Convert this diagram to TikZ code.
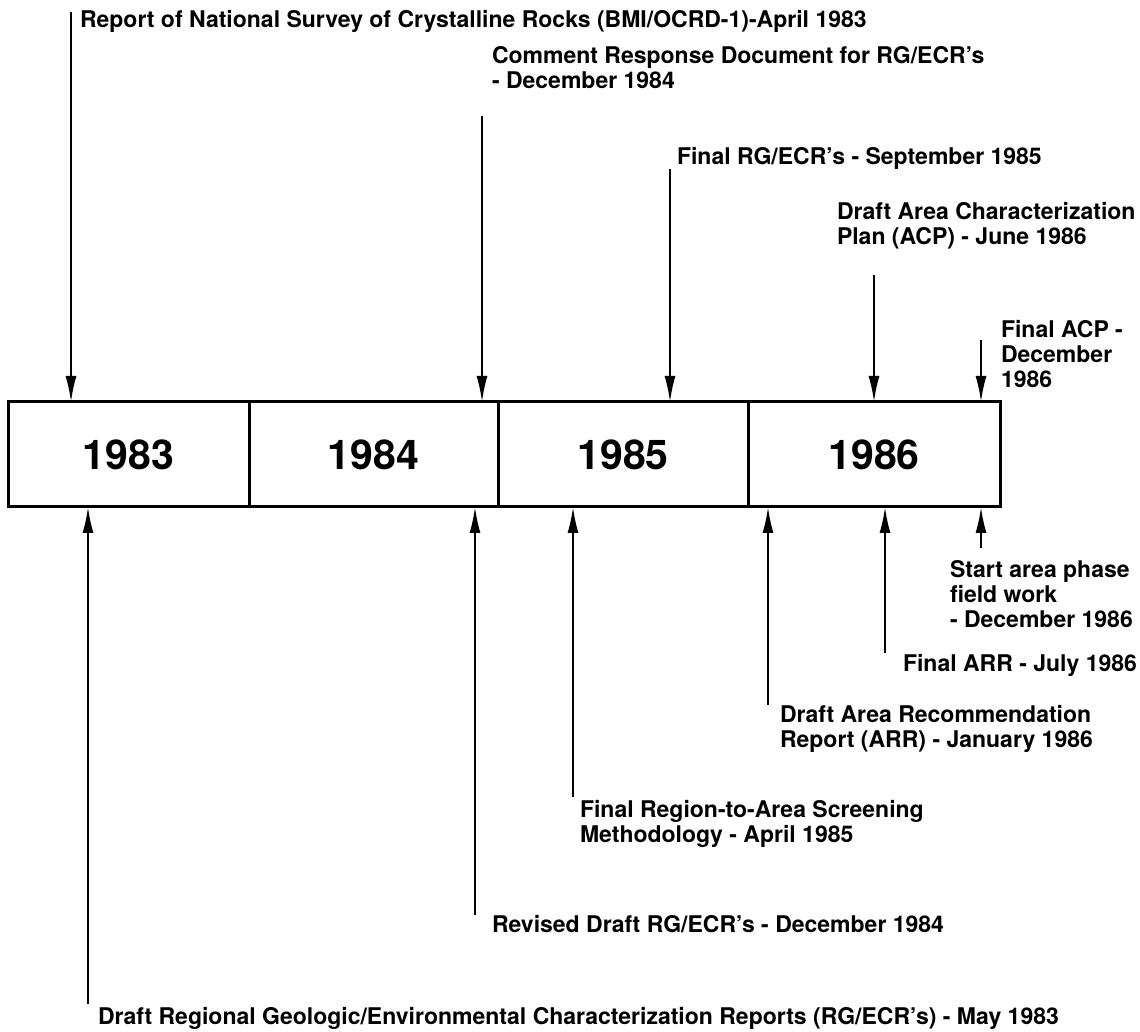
\documentclass[tikz,border=0pt]{standalone}
\usepackage{fontspec}
\setmainfont{TeX Gyre Heros}
\usetikzlibrary{arrows.meta}
\begin{document}
\begin{tikzpicture}[x=1pt,y=1pt,
  yearbox/.style={draw=drawColor,line width=3pt,minimum height=105pt,inner sep=0pt,outer sep=0pt,font=\fontsize{41}{41}\selectfont\bfseries},
  note/.style={text=drawColor,anchor=north west,align=left,inner sep=0pt,outer sep=0pt,font=\fontsize{23}{25}\selectfont\bfseries},
  pointer/.style={draw=drawColor,line width=2pt,-{Latex[length=26pt,width=11pt]}}]
\definecolor{fillColor}{RGB}{255,255,255}
\definecolor{drawColor}{RGB}{0,0,0}
\path[use as bounding box,fill=fillColor] (0,0) rectangle (1140,1031);

\node[yearbox,minimum width=241pt] (y1983) at (128.5,576.5) {1983};

\node[yearbox,minimum width=249pt] (y1984) at (373.5,576.5) {1984};

\node[yearbox,minimum width=250pt] (y1985) at (623.0,576.5) {1985};

\node[yearbox,minimum width=252pt] (y1986) at (874.0,576.5) {1986};

\node[note] (survey) at ( 80,1021) {Report of National Survey of Crystalline Rocks (BMI/OCRD-1)-April 1983};

\node[note] (response) at (492, 985) {Comment Response Document for RG/ECR’s\\- December 1984};

\node[note] (finalrg) at (677, 884) {Final RG/ECR’s - September 1985};

\node[note] (draftacp) at (837, 829) {Draft Area Characterization\\Plan (ACP) - June 1986};

\node[note] (finalacp) at (1001, 711) {Final ACP -\\December\\1986};

\node[note] (fieldwork) at (950, 471) {Start area phase\\field work\\- December 1986};

\node[note] (finalarr) at (903, 377) {Final ARR - July 1986};

\node[note] (draftarr) at (780, 326) {Draft Area Recommendation\\Report (ARR) - January 1986};

\node[note] (screening) at (580, 231) {Final Region-to-Area Screening\\Methodology - April 1985};

\node[note] (revised) at (492, 116) {Revised Draft RG/ECR’s - December 1984};

\node[note] (draftrg) at ( 98, 24) {Draft Regional Geologic/Environmental Characterization Reports (RG/ECR’s) - May 1983};

\coordinate (survey-end) at ( 71,1019);
\coordinate (response-end) at (482, 915);
\coordinate (finalrg-end) at (670, 862);
\coordinate (draftacp-end) at (874, 756);
\coordinate (finalacp-end) at (981, 691);
\coordinate (fieldwork-end) at (981, 483);
\coordinate (finalarr-end) at (885, 378);
\coordinate (draftarr-end) at (768, 326);
\coordinate (screening-end) at (573, 234);
\coordinate (revised-end) at (475, 116);
\coordinate (draftrg-end) at ( 88, 27);

\path[pointer] (survey-end) -- (survey-end |- y1983.north);

\path[pointer] (response-end) -- (response-end |- y1984.north);

\path[pointer] (finalrg-end) -- (finalrg-end |- y1985.north);

\path[pointer] (draftacp-end) -- (draftacp-end |- y1986.north);

\path[pointer] (finalacp-end) -- (finalacp-end |- y1986.north);

\path[pointer] (fieldwork-end) -- (fieldwork-end |- y1986.south);

\path[pointer] (finalarr-end) -- (finalarr-end |- y1986.south);

\path[pointer] (draftarr-end) -- (draftarr-end |- y1986.south);

\path[pointer] (screening-end) -- (screening-end |- y1985.south);

\path[pointer] (revised-end) -- (revised-end |- y1984.south);

\path[pointer] (draftrg-end) -- (draftrg-end |- y1983.south);
\end{tikzpicture}
\end{document}
